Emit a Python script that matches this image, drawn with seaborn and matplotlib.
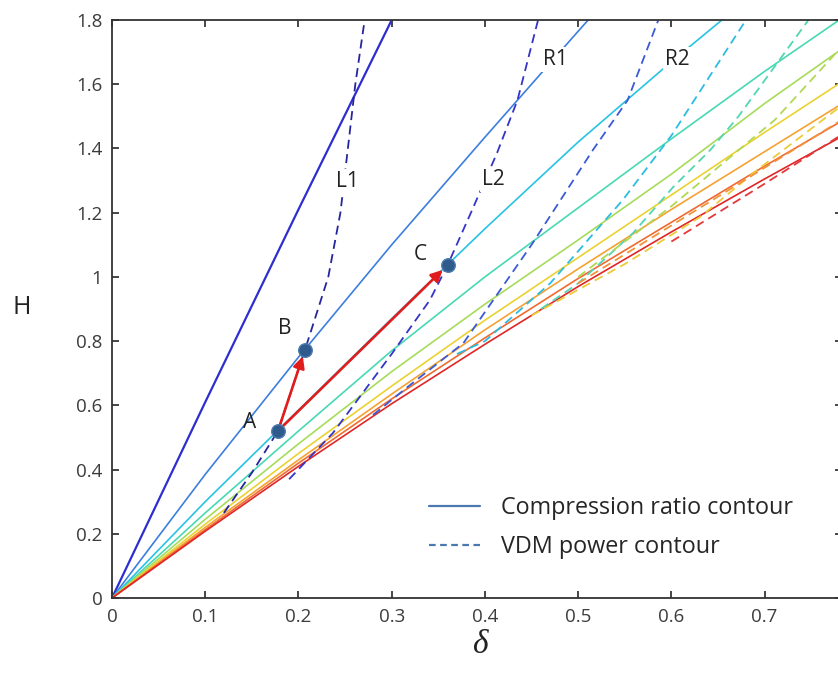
import seaborn as sns
import matplotlib.pyplot as plt
from matplotlib.lines import Line2D

# Compression ratio contours (solid lines), H read at these delta values
delta_grid = [0, 0.1, 0.2, 0.3, 0.4, 0.5, 0.6, 0.7, 0.8]
ratio_H = [
    [0, 0.61, 1.21, 1.80, 2.38, 2.95, 3.50, 4.05, 4.60],
    [0, 0.385, 0.75, 1.10, 1.435, 1.765, 2.09, 2.40, 2.70],
    [0, 0.30, 0.585, 0.87, 1.15, 1.42, 1.67, 1.91, 2.15],
    [0, 0.265, 0.52, 0.77, 1.00, 1.215, 1.43, 1.64, 1.84],
    [0, 0.245, 0.48, 0.705, 0.915, 1.115, 1.32, 1.54, 1.745],
    [0, 0.23, 0.45, 0.66, 0.865, 1.06, 1.255, 1.45, 1.64],
    [0, 0.22, 0.43, 0.635, 0.835, 1.025, 1.21, 1.39, 1.57],
    [0, 0.213, 0.42, 0.62, 0.81, 0.995, 1.17, 1.345, 1.515],
    [0, 0.208, 0.41, 0.605, 0.79, 0.97, 1.14, 1.305, 1.465],
]
ratio_colors = ["#2e2ed0", "#3c7ede", "#28c2e4", "#48d8b4", "#a6dc5a",
                "#ead232", "#f5a232", "#f06a30", "#e02626"]

# VDM power contours (dashed lines)
L1_delta = [0.12, 0.15, 0.178, 0.207, 0.232, 0.245, 0.261, 0.271]
L1_H = [0.265, 0.39, 0.52, 0.773, 1.0, 1.2, 1.6, 1.8]
L2_delta = [0.19, 0.237, 0.30, 0.341, 0.36, 0.385, 0.413, 0.435, 0.457]
L2_H = [0.37, 0.514, 0.76, 0.928, 1.037, 1.2, 1.386, 1.551, 1.8]
R2_delta = [0.28, 0.317, 0.377, 0.45, 0.516, 0.553, 0.586]
R2_H = [0.57, 0.657, 0.794, 1.10, 1.396, 1.55, 1.8]
cyan_delta = [0.37, 0.40, 0.47, 0.548, 0.60, 0.68]
cyan_H = [0.76, 0.80, 0.98, 1.24, 1.44, 1.8]
aqua_delta = [0.46, 0.50, 0.559, 0.602, 0.642, 0.672, 0.747]
aqua_H = [0.90, 0.98, 1.137, 1.28, 1.396, 1.50, 1.8]
yg_delta = [0.50, 0.60, 0.711, 0.79]
yg_H = [1.0, 1.22, 1.489, 1.74]
yellow_delta = [0.45, 0.55, 0.631, 0.692, 0.79]
yellow_H = [0.88, 1.04, 1.187, 1.333, 1.55]
orange_delta = [0.5, 0.65, 0.80]
orange_H = [0.98, 1.25, 1.52]
red_delta = [0.6, 0.7, 0.8]
red_H = [1.11, 1.29, 1.475]

power_lines = [
    (L1_delta, L1_H, "#25259e"),
    (L2_delta, L2_H, "#3434c8"),
    (R2_delta, R2_H, "#3a5ad6"),
    (cyan_delta, cyan_H, "#2cbce2"),
    (aqua_delta, aqua_H, "#52d6b2"),
    (yg_delta, yg_H, "#b2d852"),
    (yellow_delta, yellow_H, "#eccc3a"),
    (orange_delta, orange_H, "#f2923a"),
    (red_delta, red_H, "#e23a3a"),
]

# operating points
point_names = ["A", "B", "C"]
point_delta = [0.178, 0.207, 0.360]
point_H = [0.52, 0.773, 1.037]

# inline contour labels
label_names = ["L1", "L2", "R1", "R2"]
label_delta = [0.253, 0.409, 0.476, 0.606]
label_H = [1.296, 1.302, 1.676, 1.676]

sns.set_style("ticks")
plt.rcParams["font.family"] = ["Open Sans", "DejaVu Sans"]

fig = plt.figure(figsize=(8.38, 6.85), dpi=100)
ax = fig.add_axes([112 / 838, 87 / 685, 730 / 838, 578 / 685])

for i, hs in enumerate(ratio_H):
    sns.lineplot(x=delta_grid, y=hs, color=ratio_colors[i], lw=1.6 if i == 0 else 1.2,
                 ax=ax, sort=False, estimator=None)

for xs, ys, c in power_lines:
    sns.lineplot(x=xs, y=ys, color=c, lw=1.3, ax=ax, sort=False, estimator=None,
                 linestyle=(0, (5, 3)))

# red arrows A->B and A->C
for j in (1, 2):
    ax.annotate("", xy=(point_delta[j], point_H[j]), xytext=(point_delta[0], point_H[0]),
                arrowprops=dict(arrowstyle="-|>", color="#e01c1c", lw=1.9,
                                mutation_scale=17, shrinkA=0, shrinkB=5), zorder=5)

sns.scatterplot(x=point_delta, y=point_H, s=95, color="#2f5b8c", edgecolor="#4a7bb0",
                linewidth=1, ax=ax, zorder=6)

pt_off = [(-0.030, 0.028), (-0.022, 0.067), (-0.029, 0.033)]
for n, x, y, (dx, dy) in zip(point_names, point_delta, point_H, pt_off):
    ax.text(x + dx, y + dy, n, fontsize=15, color="#222222", ha="center", va="center", zorder=7)

for n, x, y in zip(label_names, label_delta, label_H):
    ax.text(x, y, n, fontsize=15, color="#222222", ha="center", va="center", zorder=7,
            bbox=dict(fc="white", ec="none", pad=1.5))

ax.set_xlim(0, 0.783)
ax.set_ylim(0, 1.8)
ax.set_xticks([0, 0.1, 0.2, 0.3, 0.4, 0.5, 0.6, 0.7])
ax.set_xticklabels(["0", "0.1", "0.2", "0.3", "0.4", "0.5", "0.6", "0.7"])
ax.set_yticks([0, 0.2, 0.4, 0.6, 0.8, 1.0, 1.2, 1.4, 1.6, 1.8])
ax.set_yticklabels(["0", "0.2", "0.4", "0.6", "0.8", "1", "1.2", "1.4", "1.6", "1.8"])
ax.tick_params(direction="in", top=True, right=True, length=5, width=1.2,
               labelsize=13.5, labelcolor="#3c3c3c", pad=7)
for s in ax.spines.values():
    s.set_color("#333333")
    s.set_linewidth(1.3)

handles = [Line2D([], [], color="#4a78b0", lw=1.6),
           Line2D([], [], color="#4a78b0", lw=1.6, linestyle=(0, (3, 2)))]
ax.legend(handles, ["Compression ratio contour", "VDM power contour"], frameon=False,
          loc="upper left", bbox_to_anchor=(0.405, 0.212), fontsize=16.8,
          handlelength=2.2, handletextpad=0.9, labelspacing=0.64)

fig.text(22 / 838, 1 - 308 / 685, "H", fontsize=18, ha="center", va="center", color="#222222")
fig.text(480 / 838, 1 - 645 / 685, "δ", fontsize=24, ha="center", va="center",
         family=["Liberation Serif", "DejaVu Serif"], style="italic", color="#222222")

fig.savefig("out.png", dpi=100)
